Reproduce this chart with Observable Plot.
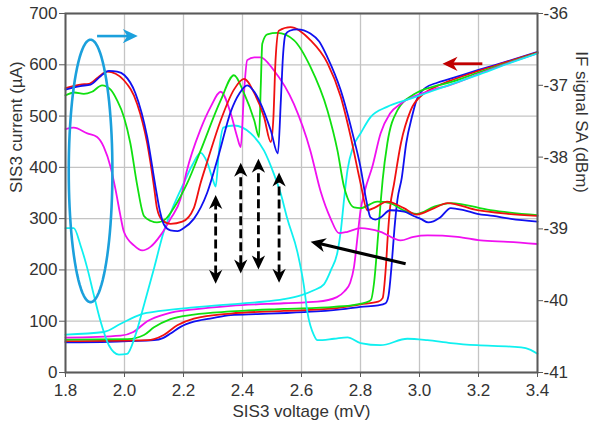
<!DOCTYPE html>
<html>
<head>
<meta charset="utf-8">
<script src="https://cdn.jsdelivr.net/npm/d3@7"></script>
<script src="https://cdn.jsdelivr.net/npm/@observablehq/plot@0.6"></script>
<style>
  html, body { margin: 0; padding: 0; background: #fff; }
  #chart svg { display: block; }
</style>
</head>
<body>
<div id="chart"></div>
<script>
// ---------- axes / labels ----------
const xTicks = [1.8, 2.0, 2.2, 2.4, 2.6, 2.8, 3.0, 3.2, 3.4];
const yTicks = [0, 100, 200, 300, 400, 500, 600, 700];
const ifTicks = [-41, -40, -39, -38, -37, -36];
const xTitle = "SIS3 voltage (mV)";
const yTitle = "SIS3 current (µA)";
const y2Title = "IF signal SA (dBm)";

// ---------- I-V curves (left axis, µA) ----------
const ivV_blue = [1.80,1.95,2.10,2.13,2.156,2.19,2.235,2.29,2.36,2.45,2.55,2.65,2.75,2.80,2.86,2.885,2.895,2.905,2.915,2.925,2.94,2.955,2.975,2.99,3.02,3.06,3.10,3.20,3.30,3.40];
const ivI_blue = [59,60,63,67,76,89,99,105,112,114,116,119,124,128,131,135,150,206,280,336,380,447,500,531,555,565,572,590,607,625];

const ivV_red = [1.80,2.08,2.10,2.133,2.179,2.235,2.36,2.54,2.71,2.80,2.86,2.875,2.886,2.893,2.90,2.914,2.937,2.97,3.015,3.05,3.10,3.20,3.30,3.40];
const ivI_red = [61,63,65,73,92,105,115,120,125,133,138,145,206,271,320,369,447,511,544,556,568,588,606,624];

const ivV_green = [1.80,2.01,2.066,2.10,2.156,2.235,2.36,2.54,2.71,2.78,2.82,2.835,2.846,2.86,2.868,2.875,2.891,2.925,2.98,3.05,3.10,3.20,3.30,3.40];
const ivI_green = [64,65,73,88,104,113,119,124,128,132,137,141,175,270,330,375,447,511,542,558,565,585,604,623];

const ivV_magenta = [1.80,1.987,2.03,2.077,2.145,2.235,2.36,2.54,2.654,2.72,2.745,2.765,2.778,2.79,2.80,2.815,2.84,2.868,2.90,2.936,2.98,3.05,3.10,3.20,3.30,3.40];
const ivI_magenta = [68,72,79,100,115,123,130,135,138,147,158,175,206,265,315,355,401,466,505,524,538,552,560,582,603,622];

const ivV_cyan = [1.80,1.93,1.987,2.054,2.122,2.235,2.36,2.45,2.54,2.60,2.64,2.676,2.70,2.722,2.733,2.744,2.756,2.775,2.80,2.834,2.89,2.97,3.083,3.196,3.30,3.40];
const ivI_cyan = [74,79,95,113,120,127,133,137,143,151,160,172,200,235,275,336,395,440,466,498,518,534,557,580,602,622];

// ---------- IF signal curves (right axis, dBm) ----------
const ifV_blue = [1.80,1.85,1.885,1.92,1.947,1.975,2.00,2.037,2.077,2.105,2.12,2.135,2.156,2.18,2.20,2.235,2.28,2.32,2.36,2.39,2.416,2.44,2.46,2.496,2.52,2.53,2.537,2.546,2.56,2.586,2.63,2.66,2.688,2.733,2.773,2.80,2.82,2.834,2.85,2.868,2.90,2.948,2.98,3.004,3.03,3.07,3.106,3.15,3.196,3.25,3.31,3.40];
const ifP_blue = [-37.06,-37.01,-36.99,-36.87,-36.80,-36.81,-36.86,-37.11,-37.72,-38.41,-38.75,-38.95,-39.02,-39.03,-38.99,-38.86,-38.50,-37.96,-37.37,-37.11,-37.00,-37.09,-37.24,-37.63,-37.95,-37.21,-36.61,-36.29,-36.24,-36.22,-36.28,-36.39,-36.61,-37.07,-37.67,-38.14,-38.61,-38.84,-38.87,-38.84,-38.74,-38.76,-38.82,-38.86,-38.91,-38.84,-38.71,-38.74,-38.79,-38.82,-38.86,-38.90];

const ifV_red = [1.80,1.85,1.879,1.91,1.941,1.97,1.998,2.043,2.077,2.10,2.11,2.128,2.156,2.196,2.235,2.258,2.28,2.326,2.371,2.405,2.44,2.473,2.496,2.505,2.512,2.523,2.563,2.63,2.688,2.733,2.767,2.80,2.823,2.85,2.89,2.947,2.99,3.05,3.095,3.196,3.30,3.40];
const ifP_red = [-37.04,-36.99,-36.98,-36.89,-36.81,-36.84,-36.93,-37.26,-37.81,-38.41,-38.71,-38.88,-38.93,-38.90,-38.71,-38.36,-38.07,-37.49,-37.06,-36.91,-37.11,-37.44,-37.79,-37.43,-36.65,-36.24,-36.19,-36.37,-36.69,-37.16,-37.72,-38.36,-38.74,-38.70,-38.62,-38.71,-38.80,-38.71,-38.64,-38.74,-38.79,-38.82];

const ifV_green = [1.80,1.83,1.862,1.89,1.924,1.953,1.975,1.998,2.02,2.043,2.066,2.09,2.11,2.14,2.167,2.213,2.258,2.326,2.371,2.405,2.44,2.456,2.462,2.467,2.484,2.518,2.574,2.63,2.688,2.722,2.744,2.756,2.778,2.80,2.857,2.90,2.95,2.99,3.05,3.106,3.24,3.40];
const ifP_green = [-37.14,-37.10,-37.12,-37.09,-37.00,-37.06,-37.21,-37.44,-37.81,-38.39,-38.82,-38.89,-38.91,-38.86,-38.71,-38.36,-37.91,-37.21,-36.86,-37.11,-37.49,-37.72,-37.00,-36.42,-36.29,-36.27,-36.37,-36.74,-37.35,-37.91,-38.41,-38.57,-38.70,-38.71,-38.62,-38.64,-38.75,-38.79,-38.69,-38.64,-38.74,-38.81];

const ifV_magenta = [1.80,1.828,1.874,1.907,1.93,1.953,1.97,1.985,1.998,2.032,2.06,2.088,2.122,2.156,2.19,2.21,2.258,2.292,2.326,2.36,2.382,2.394,2.405,2.416,2.44,2.461,2.506,2.574,2.63,2.665,2.699,2.727,2.756,2.80,2.868,2.936,2.98,3.027,3.129,3.207,3.30,3.40];
const ifP_magenta = [-37.61,-37.59,-37.67,-37.72,-37.86,-38.14,-38.46,-38.79,-39.04,-39.23,-39.30,-39.25,-39.09,-38.86,-38.58,-38.21,-37.61,-37.30,-37.09,-37.39,-37.72,-37.86,-37.11,-36.65,-36.61,-36.61,-36.79,-37.26,-37.91,-38.48,-38.86,-39.06,-39.04,-38.99,-39.04,-39.16,-39.11,-39.09,-39.11,-39.16,-39.18,-39.21];

const ifV_cyan = [1.80,1.828,1.851,1.874,1.896,1.919,1.947,1.981,2.009,2.037,2.066,2.10,2.133,2.167,2.20,2.23,2.258,2.28,2.30,2.309,2.32,2.335,2.371,2.428,2.473,2.506,2.529,2.552,2.586,2.608,2.62,2.642,2.654,2.71,2.756,2.80,2.868,2.959,3.027,3.106,3.196,3.31,3.36,3.40];
const ifP_cyan = [-38.99,-38.99,-39.23,-39.55,-39.92,-40.29,-40.62,-40.75,-40.74,-40.48,-40.06,-39.55,-39.04,-38.67,-38.37,-38.11,-37.94,-38.07,-38.32,-38.41,-37.93,-37.59,-37.56,-37.67,-37.91,-38.23,-38.50,-38.86,-39.32,-39.79,-40.16,-40.48,-40.55,-40.53,-40.51,-40.59,-40.62,-40.53,-40.55,-40.59,-40.62,-40.64,-40.66,-40.74];

// ---------- annotations ----------
const dashArrowX  = [2.309, 2.394, 2.454, 2.524];
const dashArrowLo = [173, 193, 201, 175];
const dashArrowHi = [346, 409, 417, 390];

const ellipseCenter = {x: 1.885, y: 393};
const ellipseRadius = {x: 0.074, y: 256};

const blueArrow  = {x1: 1.907, x2: 2.045, y: 656};
const redArrow   = {x1: 3.213, x2: 3.078, y: 602};
const blackArrow = {x1: 2.953, y1: 212, x2: 2.631, y2: 255};

// ---------- colours ----------
const colors = {blue: "#1010f0", red: "#f01010", green: "#10e010", magenta: "#f010f0", cyan: "#10f0f0"};
const annBlue = "#1ba0dc";
const annRed = "#c00000";

// ---------- helpers ----------
const dbmToLeft = d3.scaleLinear().domain([-41, -36]).range([0, 700]);
const zip = (xs, ys) => xs.map((x, i) => ({x, y: ys[i]})).filter(d => d.y !== undefined);

const ivSeries = [
  ["blue", zip(ivV_blue, ivI_blue)],
  ["red", zip(ivV_red, ivI_red)],
  ["green", zip(ivV_green, ivI_green)],
  ["magenta", zip(ivV_magenta, ivI_magenta)],
  ["cyan", zip(ivV_cyan, ivI_cyan)]
];
const ifSeries = [
  ["cyan", zip(ifV_cyan, ifP_cyan)],
  ["magenta", zip(ifV_magenta, ifP_magenta)],
  ["green", zip(ifV_green, ifP_green)],
  ["red", zip(ifV_red, ifP_red)],
  ["blue", zip(ifV_blue, ifP_blue)]
];

// arrow head symbol (tip at origin, pointing up)
const stealth = {
  draw(context, size) {
    const s = Math.sqrt(size / Math.PI);
    context.moveTo(0, 0);
    context.lineTo(0.95 * s, 2 * s);
    context.lineTo(0, 1.4 * s);
    context.lineTo(-0.95 * s, 2 * s);
    context.closePath();
  }
};

const ellipsePts = d3.range(0, 361, 4).map(a => {
  const t = a * Math.PI / 180;
  return {x: ellipseCenter.x + ellipseRadius.x * Math.cos(t), y: ellipseCenter.y + ellipseRadius.y * Math.sin(t)};
});

const dashArrows = dashArrowX.map((x, i) => ({x, lo: dashArrowLo[i], hi: dashArrowHi[i]}));
const headGap = 17; // µA: shaft stops under the head

const marks = [
  Plot.gridX(xTicks, {stroke: "#c4c4c4", strokeOpacity: 1, strokeWidth: 1.3}),
  Plot.gridY(yTicks, {stroke: "#c4c4c4", strokeOpacity: 1, strokeWidth: 1.3}),
];

for (const [c, pts] of ivSeries) {
  marks.push(Plot.line(pts, {x: "x", y: "y", stroke: colors[c], strokeWidth: 1.8, curve: "monotone-x"}));
}
for (const [c, pts] of ifSeries) {
  marks.push(Plot.line(pts, {x: "x", y: d => dbmToLeft(d.y), stroke: colors[c], strokeWidth: 1.8, curve: "monotone-x"}));
}

marks.push(
  // blue ellipse
  Plot.line(ellipsePts, {x: "x", y: "y", stroke: annBlue, strokeWidth: 2.6, curve: "linear"}),
  // blue arrow
  Plot.link([blueArrow], {x1: "x1", x2: d => d.x2 - 0.03, y1: "y", y2: "y", stroke: annBlue, strokeWidth: 2.6}),
  Plot.dot([blueArrow], {x: "x2", y: "y", symbol: stealth, r: 7.5, fill: annBlue, stroke: "none", rotate: 90}),
  // red arrow
  Plot.link([redArrow], {x1: "x1", x2: d => d.x2 + 0.03, y1: "y", y2: "y", stroke: annRed, strokeWidth: 2.8}),
  Plot.dot([redArrow], {x: "x2", y: "y", symbol: stealth, r: 7.5, fill: annRed, stroke: "none", rotate: -90}),
  // black arrow
  Plot.link([blackArrow], {x1: "x1", y1: "y1", x2: d => d.x2 + 0.033, y2: d => d.y2 - 4, stroke: "black", strokeWidth: 3.2}),
  Plot.dot([blackArrow], {x: "x2", y: "y2", symbol: stealth, r: 7.5, fill: "black", stroke: "none", rotate: -77}),
  // dashed double arrows
  Plot.ruleX(dashArrows, {x: "x", y1: d => d.lo + headGap, y2: d => d.hi - headGap, stroke: "black", strokeWidth: 2.8, strokeDasharray: "9,4"}),
  Plot.dot(dashArrows, {x: "x", y: "hi", symbol: stealth, r: 7, fill: "black", stroke: "none", rotate: 0}),
  Plot.dot(dashArrows, {x: "x", y: "lo", symbol: stealth, r: 7, fill: "black", stroke: "none", rotate: 180}),

  Plot.frame({stroke: "#5a5a5a", strokeWidth: 2}),
  Plot.axisX(xTicks, {anchor: "bottom", tickFormat: d3.format(".1f"), tickSize: 5, tickPadding: 6, label: null, stroke: "#5a5a5a"}),
  Plot.axisY(yTicks, {anchor: "left", tickSize: 6, tickPadding: 2, label: null, stroke: "#5a5a5a"}),
  Plot.axisY(ifTicks.map(dbmToLeft), {anchor: "right", tickSize: 5, tickPadding: 1, label: null, stroke: "#5a5a5a",
    tickFormat: d => String(Math.round(dbmToLeft.invert(d)))}),
  Plot.text([xTitle], {frameAnchor: "bottom", dy: 44, text: d => d, fontSize: 17}),
  Plot.text([yTitle], {frameAnchor: "left", dx: -49, rotate: -90, text: d => d, fontSize: 17}),
  Plot.text([y2Title], {frameAnchor: "right", dx: 44, rotate: 90, text: d => d, fontSize: 17})
);

const chart = Plot.plot({
  width: 590,
  height: 427,
  marginLeft: 65,
  marginRight: 53,
  marginTop: 13,
  marginBottom: 55,
  x: {domain: [1.8, 3.4], label: null},
  y: {domain: [0, 700], label: null},
  style: {fontFamily: "'Liberation Sans', Arial, sans-serif", fontSize: "17px", color: "#333", background: "#fff", overflow: "visible"},
  marks
});
document.getElementById("chart").appendChild(chart);
</script>
</body>
</html>
